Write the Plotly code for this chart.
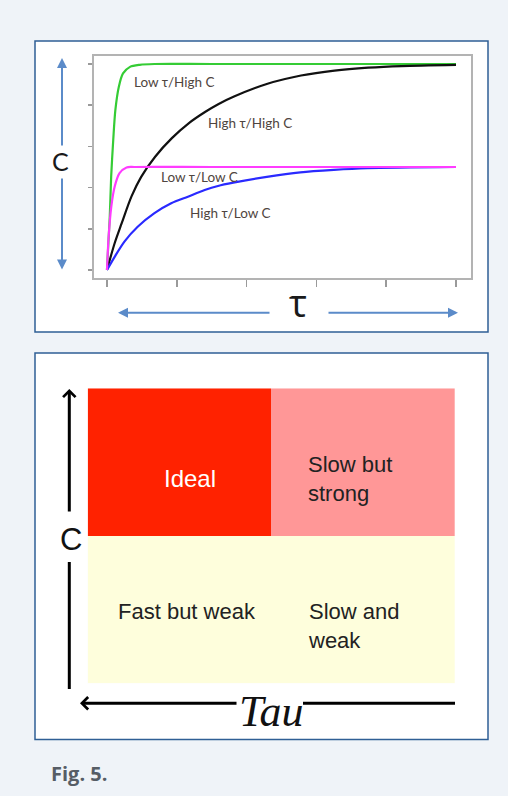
import plotly.graph_objects as go

# --- top panel: step responses (unit ticks 0..5) ---
TICKS = [0, 1, 2, 3, 4, 5]

green_x = [0, 0.04, 0.06, 0.09, 0.12, 0.17, 0.23, 0.33, 0.47, 0.68, 1.5, 5.0]
green_y = [0, 1.29, 2.26, 3.16, 3.88, 4.45, 4.77, 4.93, 4.98, 5.0, 5.0, 5.0]

black_x = [0, 0.11, 0.21, 0.35, 0.49, 0.69, 0.93, 1.17, 1.41, 1.60, 1.82, 2.30, 2.78, 3.26, 3.74, 4.22, 5.0]
black_y = [0, 0.65, 1.13, 1.78, 2.26, 2.75, 3.20, 3.56, 3.84, 4.03, 4.21, 4.52, 4.72, 4.84, 4.91, 4.95, 4.98]

pink_x = [0, 0.024, 0.062, 0.11, 0.18, 0.28, 0.40, 1.5, 5.0]
pink_y = [0, 0.81, 1.54, 2.02, 2.35, 2.49, 2.5, 2.5, 2.5]

blue_x = [0, 0.11, 0.25, 0.44, 0.68, 0.92, 1.16, 1.40, 1.59, 1.81, 2.29, 2.77, 3.25, 3.73, 5.0]
blue_y = [0, 0.32, 0.69, 1.05, 1.38, 1.62, 1.78, 1.94, 2.04, 2.12, 2.26, 2.37, 2.43, 2.47, 2.5]

curve_labels = ["Low τ/High C", "High τ/High C", "Low τ/Low C", "High τ/Low C"]
label_x = [0.36, 1.42, 0.75, 1.16]
label_y = [4.56, 3.56, 2.26, 1.38]

# --- bottom panel: tau / C quadrants ---
quad_x = [0, 1]          # low tau, high tau
quad_y = [0, 1]          # low C, high C
quad_z = [[2, 2], [0, 1]]  # 0 = ideal, 1 = slow but strong, 2 = weak
quad_text = ["Ideal", "Slow but<br>strong", "Fast but weak", "Slow and<br>weak"]

W, H = 508, 796
BG = "#eff3f8"
BOX = "#2f5f95"
ARROW_BLUE = "#5b8bc9"


def px(x):
    return x / W


def py(y):
    return 1 - y / H


fig = go.Figure()

for xs, ys, color in [
    (green_x, green_y, "#35cc35"),
    (black_x, black_y, "#111111"),
    (blue_x, blue_y, "#2a2aff"),
    (pink_x, pink_y, "#ff3cff"),
]:
    fig.add_trace(go.Scatter(
        x=xs, y=ys, mode="lines",
        line=dict(color=color, width=2.2, shape="spline", smoothing=0.8),
        xaxis="x", yaxis="y", hoverinfo="skip",
    ))

fig.add_trace(go.Heatmap(
    x=quad_x, y=quad_y, z=quad_z,
    zmin=0, zmax=2, showscale=False,
    colorscale=[[0, "#ff2200"], [0.33, "#ff2200"], [0.33, "#ff9797"],
                [0.67, "#ff9797"], [0.67, "#fefedc"], [1, "#fefedc"]],
    xaxis="x2", yaxis="y2", hoverinfo="skip",
))

annotations = []
for text, x, y in zip(curve_labels, label_x, label_y):
    annotations.append(dict(
        x=x, y=y, xref="x", yref="y", text=text, showarrow=False,
        xanchor="left", yanchor="middle",
        font=dict(family="Lato, Open Sans, sans-serif", size=13.5, color="#4f4540"),
    ))

# quadrant labels
quad_font = dict(family="Liberation Sans, Arial, sans-serif", size=22, color="#222222")
annotations += [
    dict(x=0.057, y=0.89, text=quad_text[0], xanchor="center",
         font=dict(family="Liberation Sans, Arial, sans-serif", size=24, color="white")),
    dict(x=0.69, y=0.887, text=quad_text[1], xanchor="left", align="left", font=quad_font),
    dict(x=0.043, y=-0.015, text=quad_text[2], xanchor="center", font=quad_font),
    dict(x=0.69, y=-0.11, text=quad_text[3], xanchor="left", align="left", font=quad_font),
]
for a in annotations[-4:]:
    a.update(xref="x2", yref="y2", showarrow=False, yanchor="middle")


def arrow(hx, hy, tx, ty, color, width, head, size):
    return dict(
        x=px(hx), y=py(hy), xref="paper", yref="paper",
        ax=tx - hx, ay=ty - hy, text="", showarrow=True,
        arrowhead=head, arrowsize=size, arrowwidth=width, arrowcolor=color,
        standoff=0,
    )


def label(x, y, text, font, xanchor="center"):
    return dict(x=px(x), y=py(y), xref="paper", yref="paper", text=text,
                showarrow=False, xanchor=xanchor, yanchor="middle", font=font)


# top panel axis arrows (blue, split by the letters)
annotations += [
    arrow(62, 58, 62, 147, ARROW_BLUE, 2, 2, 1),
    arrow(62, 269.5, 62, 177, ARROW_BLUE, 2, 2, 1),
    arrow(118, 312.7, 271, 312.7, ARROW_BLUE, 2, 2, 1),
    arrow(458, 312.7, 327, 312.7, ARROW_BLUE, 2, 2, 1),
]
# bottom panel axis arrows (black)
annotations += [
    arrow(69.3, 389, 69.3, 513, "black", 3, 4, 0.8),
    arrow(80, 703.3, 238, 703.3, "black", 3, 4, 0.8),
]

# axis letters and caption
annotations += [
    label(60, 161.5, "C", dict(family="Lato, Open Sans, sans-serif", size=25, color="#1a1a1a")),
    label(298, 302, "τ", dict(family="Open Sans, sans-serif", size=38, color="#1a1a1a")),
    label(70.5, 539.5, "C", dict(family="Liberation Sans, Arial, sans-serif", size=31, color="#111111")),
    label(271, 711, "<i>Tau</i>",
          dict(family="Liberation Serif, Times New Roman, serif", size=44, color="#111111")),
    label(49, 773, "<b>Fig. 5.</b>",
          dict(family="Open Sans, sans-serif", size=20, color="#565d66"), xanchor="left"),
]

shapes = [
    dict(type="rect", xref="paper", yref="paper", layer="below",
         x0=px(35), x1=px(488), y0=py(41), y1=py(332),
         fillcolor="white", line=dict(color=BOX, width=1.5)),
    dict(type="rect", xref="paper", yref="paper", layer="below",
         x0=px(35), x1=px(488), y0=py(353), y1=py(739.5),
         fillcolor="white", line=dict(color=BOX, width=1.5)),
    dict(type="line", xref="paper", yref="paper",
         x0=px(69.3), x1=px(69.3), y0=py(562), y1=py(689),
         line=dict(color="black", width=3)),
    dict(type="line", xref="paper", yref="paper",
         x0=px(303), x1=px(455), y0=py(703.3), y1=py(703.3),
         line=dict(color="black", width=3)),
]

fig.update_layout(
    width=W, height=H,
    margin=dict(l=0, r=0, t=0, b=0),
    paper_bgcolor=BG,
    plot_bgcolor="rgba(0,0,0,0)",
    showlegend=False,
    hovermode=False,
    annotations=annotations,
    shapes=shapes,
    xaxis=dict(
        domain=[px(93.5), px(471)], range=[-0.193, 5.215],
        tickvals=TICKS, showticklabels=False, ticks="outside", ticklen=7,
        tickcolor="#9a9a9a", tickwidth=1.5,
        showgrid=False, zeroline=False,
        showline=True, mirror=True, linecolor="#b3b3b3", linewidth=2,
        anchor="y",
    ),
    yaxis=dict(
        domain=[py(278), py(55.5)], range=[-0.194, 5.206],
        tickvals=TICKS, showticklabels=False, ticks="outside", ticklen=4,
        tickcolor="#9a9a9a", tickwidth=1.5,
        showgrid=False, zeroline=False,
        showline=True, mirror=True, linecolor="#b3b3b3", linewidth=2,
        anchor="x",
    ),
    xaxis2=dict(
        domain=[px(87.7), px(455)], range=[-0.5, 1.5],
        visible=False, anchor="y2",
    ),
    yaxis2=dict(
        domain=[py(683.3), py(388.3)], range=[-0.5, 1.5],
        visible=False, anchor="x2",
    ),
)

# drop the browser's default body margin so the figure sits at the page origin
fig.write_html(
    "out.html",
    config={"displayModeBar": False, "staticPlot": True},
    post_script="document.body.style.margin='0';document.body.style.overflow='hidden';"
                "document.body.style.background='" + BG + "';",
)
